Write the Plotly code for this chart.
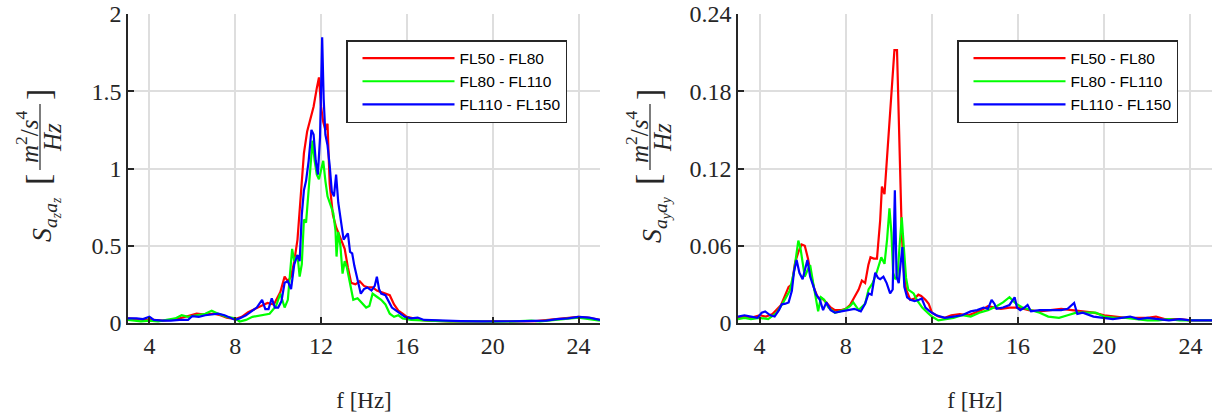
import plotly.graph_objects as go

# ---------------- data ----------------
SERIES_NAMES = ["FL50 - FL80", "FL80 - FL110", "FL110 - FL150"]
X_TICKS = [4, 8, 12, 16, 20, 24]
Y_TICKS_LEFT = [0, 0.5, 1, 1.5, 2]
Y_TICK_TEXT_LEFT = ["0", "0.5", "1", "1.5", "2"]
Y_TICKS_RIGHT = [0, 0.06, 0.12, 0.18, 0.24]
Y_TICK_TEXT_RIGHT = ["0", "0.06", "0.12", "0.18", "0.24"]

# Left: S_azaz
AZ_RED_F = [3.0, 3.4, 3.8, 4.2, 4.6, 5.0, 5.4, 5.8, 6.2, 6.6, 7.0, 7.3, 7.6, 8.0, 8.3, 8.6, 8.9, 9.2,
            9.5, 9.8, 10.1, 10.3, 10.45, 10.6, 10.75, 10.9, 11.05, 11.2, 11.35, 11.5, 11.65, 11.8,
            11.9, 12.0, 12.1, 12.2, 12.3, 12.4, 12.55, 12.7, 12.9, 13.1, 13.25, 13.4, 13.6, 13.8,
            14.0, 14.2, 14.4, 14.6, 14.8, 15.0, 15.2, 15.4, 15.6, 15.8, 16.0, 16.3, 16.6, 17.0,
            17.5, 18.0, 19.0, 20.0, 21.0, 22.0, 22.6, 23.0, 23.5, 24.0, 24.4, 24.8, 25.0]
AZ_RED_V = [0.03, 0.025, 0.02, 0.02, 0.015, 0.02, 0.03, 0.045, 0.06, 0.055, 0.06, 0.05, 0.035,
            0.025, 0.04, 0.07, 0.09, 0.11, 0.13, 0.12, 0.20, 0.30, 0.27, 0.30, 0.40, 0.54, 0.80,
            1.10, 1.24, 1.33, 1.40, 1.52, 1.59, 1.40, 1.30, 1.25, 1.29, 0.90, 0.70, 0.62, 0.55,
            0.48, 0.36, 0.26, 0.25, 0.27, 0.24, 0.23, 0.23, 0.21, 0.20, 0.19, 0.18, 0.12, 0.08,
            0.06, 0.04, 0.03, 0.02, 0.015, 0.012, 0.01, 0.01, 0.012, 0.01, 0.012, 0.02, 0.025,
            0.035, 0.04, 0.035, 0.025, 0.02]

AZ_GREEN_F = [3.0, 3.3, 3.6, 4.0, 4.4, 4.8, 5.2, 5.5, 5.8, 6.2, 6.6, 6.9, 7.2, 7.6, 8.0, 8.2, 8.5,
              8.8, 9.2, 9.6, 9.9, 10.1, 10.3, 10.45, 10.65, 10.75, 10.9, 11.0, 11.1, 11.2, 11.3,
              11.4, 11.5, 11.6, 11.7, 11.8, 11.9, 12.0, 12.1, 12.2, 12.3, 12.45, 12.57, 12.67,
              12.72, 12.8, 12.9, 13.0, 13.1, 13.2, 13.35, 13.5, 13.7, 13.9, 14.1, 14.25, 14.4,
              14.6, 14.8, 15.0, 15.2, 15.4, 15.6, 15.8, 16.2, 17.0, 18.0, 19.0, 20.0, 21.0, 21.8,
              22.2, 23.0, 23.5, 24.0, 24.5, 25.0]
AZ_GREEN_V = [0.02, 0.015, 0.01, 0.015, 0.01, 0.02, 0.03, 0.05, 0.04, 0.05, 0.06, 0.08, 0.06,
              0.04, 0.03, 0.01, 0.02, 0.04, 0.05, 0.06, 0.11, 0.19, 0.10, 0.15, 0.48, 0.40, 0.44,
              0.30, 0.38, 0.67, 0.65, 0.82, 1.00, 1.18, 1.05, 0.96, 0.93, 1.00, 1.05, 0.92, 0.82,
              0.76, 0.71, 0.60, 0.43, 0.59, 0.50, 0.32, 0.40, 0.36, 0.25, 0.15, 0.16, 0.13, 0.10,
              0.11, 0.19, 0.17, 0.15, 0.12, 0.06, 0.04, 0.05, 0.03, 0.02, 0.015, 0.01, 0.012,
              0.008, 0.01, 0.015, 0.01, 0.02, 0.03, 0.035, 0.025, 0.015]

AZ_BLUE_F = [3.0, 3.4, 3.7, 4.0, 4.2, 4.6, 5.0, 5.4, 5.8, 6.0, 6.3, 6.6, 6.9, 7.2, 7.5, 7.8, 8.0,
             8.2, 8.5, 8.8, 9.0, 9.25, 9.4, 9.55, 9.7, 9.85, 10.0, 10.15, 10.3, 10.45, 10.6, 10.75,
             10.9, 11.0, 11.1, 11.2, 11.3, 11.42, 11.55, 11.65, 11.75, 11.85, 11.95, 12.05, 12.12,
             12.2, 12.3, 12.4, 12.5, 12.6, 12.7, 12.8, 12.95, 13.05, 13.15, 13.25, 13.35, 13.45,
             13.55, 13.7, 13.85, 14.0, 14.15, 14.35, 14.5, 14.6, 14.7, 14.8, 15.0, 15.15, 15.3,
             15.5, 15.7, 15.9, 16.2, 16.5, 16.8, 17.5, 18.5, 19.5, 20.5, 21.5, 22.5, 23.0, 23.5,
             24.0, 24.5, 25.0]
AZ_BLUE_V = [0.03, 0.03, 0.025, 0.04, 0.02, 0.015, 0.015, 0.02, 0.02, 0.045, 0.04, 0.05, 0.055,
             0.06, 0.05, 0.035, 0.02, 0.03, 0.05, 0.08, 0.10, 0.15, 0.09, 0.09, 0.16, 0.10, 0.10,
             0.14, 0.26, 0.27, 0.22, 0.38, 0.44, 0.40, 0.70, 0.86, 0.92, 1.05, 1.25, 1.22, 1.05,
             0.96, 1.20, 1.85, 1.45, 1.22, 1.15, 1.02, 0.85, 0.82, 0.96, 0.78, 0.62, 0.54, 0.56,
             0.58, 0.46, 0.45, 0.37, 0.28, 0.19, 0.22, 0.23, 0.21, 0.24, 0.30, 0.22, 0.19, 0.18,
             0.14, 0.10, 0.08, 0.06, 0.04, 0.03, 0.035, 0.02, 0.015, 0.012, 0.01, 0.01, 0.012,
             0.015, 0.025, 0.03, 0.04, 0.035, 0.02]

# Right: S_ayay
AY_RED_F = [3.0, 3.3, 3.6, 4.0, 4.3, 4.6, 5.0, 5.2, 5.35, 5.5, 5.65, 5.8, 5.95, 6.1, 6.25, 6.4,
            6.55, 6.7, 6.9, 7.1, 7.3, 7.5, 7.8, 8.0, 8.2, 8.4, 8.6, 8.75, 8.9, 9.05, 9.15, 9.3,
            9.45, 9.6, 9.68, 9.8, 9.9, 10.0, 10.1, 10.2, 10.26, 10.38, 10.45, 10.52, 10.6, 10.7,
            10.8, 11.0, 11.2, 11.37, 11.5, 11.7, 11.85, 12.0, 12.3, 12.6, 12.9, 13.3, 13.7, 14.0,
            14.3, 14.6, 14.9, 15.2, 15.6, 16.0, 16.5, 17.0, 17.5, 18.0, 18.5, 19.0, 19.5, 20.0,
            20.5, 21.0, 21.5, 22.0, 22.4, 22.8, 23.5, 24.0, 24.5, 25.0]
AY_RED_V = [0.004, 0.005, 0.004, 0.006, 0.005, 0.007, 0.014, 0.022, 0.028, 0.030, 0.047, 0.055,
            0.061, 0.060, 0.050, 0.036, 0.026, 0.020, 0.019, 0.016, 0.012, 0.010, 0.010, 0.011,
            0.014, 0.020, 0.026, 0.033, 0.031, 0.045, 0.051, 0.050, 0.050, 0.080, 0.106, 0.100,
            0.125, 0.145, 0.168, 0.195, 0.212, 0.212, 0.160, 0.110, 0.070, 0.040, 0.026, 0.018,
            0.019, 0.022, 0.021, 0.018, 0.015, 0.008, 0.005, 0.004, 0.006, 0.007, 0.006, 0.008,
            0.010, 0.013, 0.012, 0.011, 0.012, 0.012, 0.010, 0.009, 0.010, 0.011, 0.010, 0.009,
            0.008, 0.006, 0.005, 0.004, 0.004, 0.004, 0.005, 0.003, 0.003, 0.002, 0.002, 0.002]

AY_GREEN_F = [3.0, 3.3, 3.6, 4.0, 4.4, 4.8, 5.1, 5.4, 5.6, 5.8, 5.9, 6.0, 6.1, 6.2, 6.35, 6.5,
              6.6, 6.72, 6.85, 7.0, 7.2, 7.5, 7.9, 8.2, 8.35, 8.6, 8.9, 9.06, 9.25, 9.45, 9.65,
              9.8, 9.92, 10.03, 10.12, 10.2, 10.3, 10.4, 10.5, 10.6, 10.7, 10.8, 10.9, 11.0, 11.15,
              11.3, 11.55, 11.8, 12.0, 12.3, 12.6, 13.0, 13.4, 13.8, 14.2, 14.6, 15.0, 15.3, 15.6,
              15.9, 16.2, 16.6, 17.0, 17.4, 17.9, 18.3, 18.7, 19.2, 19.6, 20.0, 20.5, 21.0, 21.5,
              22.0, 22.5, 23.0, 23.5, 24.0, 24.5, 25.0]
AY_GREEN_V = [0.003, 0.004, 0.003, 0.004, 0.003, 0.008, 0.016, 0.025, 0.040, 0.064, 0.058, 0.047,
              0.036, 0.040, 0.045, 0.030, 0.020, 0.009, 0.020, 0.018, 0.012, 0.008, 0.010, 0.013,
              0.016, 0.010, 0.015, 0.026, 0.031, 0.040, 0.051, 0.046, 0.065, 0.089, 0.070, 0.039,
              0.034, 0.036, 0.060, 0.082, 0.058, 0.035, 0.026, 0.025, 0.023, 0.018, 0.012, 0.008,
              0.005, 0.002, 0.003, 0.004, 0.006, 0.005, 0.008, 0.010, 0.013, 0.016, 0.020, 0.015,
              0.012, 0.010, 0.008, 0.005, 0.004, 0.006, 0.008, 0.008, 0.008, 0.005, 0.004, 0.004,
              0.003, 0.002, 0.002, 0.003, 0.002, 0.002, 0.002, 0.002]

AY_BLUE_F = [3.0, 3.3, 3.6, 3.9, 4.1, 4.26, 4.5, 4.7, 4.9, 5.03, 5.2, 5.35, 5.5, 5.6, 5.72, 5.85,
             6.0, 6.1, 6.22, 6.35, 6.5, 6.63, 6.8, 6.95, 7.1, 7.3, 7.5, 7.8, 8.1, 8.4, 8.7, 8.9,
             9.06, 9.2, 9.37, 9.5, 9.6, 9.75, 9.9, 10.06, 10.18, 10.28, 10.36, 10.46, 10.54, 10.63,
             10.72, 10.85, 11.0, 11.2, 11.4, 11.53, 11.7, 11.9, 12.2, 12.6, 13.0, 13.4, 13.8, 14.1,
             14.4, 14.6, 14.77, 14.9, 15.0, 15.3, 15.6, 15.84, 15.95, 16.1, 16.3, 16.44, 16.6,
             17.0, 17.5, 18.0, 18.3, 18.6, 18.75, 19.0, 19.5, 20.0, 20.4, 20.8, 21.2, 21.6, 22.0,
             22.5, 23.0, 23.5, 24.0, 24.5, 25.0]
AY_BLUE_V = [0.005, 0.006, 0.005, 0.004, 0.008, 0.009, 0.006, 0.005, 0.010, 0.0145, 0.015, 0.016,
             0.025, 0.040, 0.049, 0.039, 0.034, 0.042, 0.049, 0.036, 0.028, 0.022, 0.018, 0.010,
             0.016, 0.010, 0.008, 0.009, 0.010, 0.011, 0.009, 0.015, 0.023, 0.022, 0.039, 0.035,
             0.034, 0.036, 0.031, 0.023, 0.026, 0.103, 0.036, 0.031, 0.045, 0.059, 0.028, 0.020,
             0.018, 0.017, 0.018, 0.019, 0.012, 0.009, 0.006, 0.004, 0.005, 0.006, 0.009, 0.010,
             0.012, 0.011, 0.018, 0.015, 0.011, 0.012, 0.014, 0.020, 0.012, 0.010, 0.012, 0.014,
             0.009, 0.010, 0.010, 0.010, 0.011, 0.0155, 0.007, 0.008, 0.005, 0.004, 0.003, 0.004,
             0.005, 0.003, 0.004, 0.003, 0.002, 0.003, 0.002, 0.002, 0.002]

COLORS = ["#ff0000", "#00ff00", "#0000ff"]

# ---------------- figure ----------------
W, H = 1217, 414
fig = go.Figure()

left = [(AZ_RED_F, AZ_RED_V), (AZ_GREEN_F, AZ_GREEN_V), (AZ_BLUE_F, AZ_BLUE_V)]
right = [(AY_RED_F, AY_RED_V), (AY_GREEN_F, AY_GREEN_V), (AY_BLUE_F, AY_BLUE_V)]

for i, (f, v) in enumerate(left):
    fig.add_trace(go.Scatter(x=f, y=v, mode="lines", name=SERIES_NAMES[i],
                             line=dict(color=COLORS[i], width=2.2),
                             xaxis="x", yaxis="y", legend="legend"))
for i, (f, v) in enumerate(right):
    fig.add_trace(go.Scatter(x=f, y=v, mode="lines", name=SERIES_NAMES[i],
                             line=dict(color=COLORS[i], width=2.2),
                             xaxis="x2", yaxis="y2", legend="legend2"))

def px(x):
    return x / W

def py(y):
    return 1 - y / H

SERIF = "Liberation Serif"
ydom = [py(323), py(14)]
tick_font = dict(family=SERIF, size=24, color="#262626")
common_x = dict(range=[3, 25], tickvals=X_TICKS, ticktext=[str(t) for t in X_TICKS],
                showgrid=True, gridcolor="#dedede", gridwidth=1.5, zeroline=False,
                showline=True, linecolor="#262626", linewidth=1.5, mirror=False,
                ticks="inside", ticklen=6, tickwidth=1.5, tickcolor="#262626",
                tickfont=tick_font, automargin=False,
                title=dict(text="f [Hz]", font=dict(family=SERIF, size=23, color="#262626"),
                           standoff=34))
common_y = dict(showgrid=True, gridcolor="#dedede", gridwidth=1.5, zeroline=False,
                showline=True, linecolor="#262626", linewidth=1.5, mirror=False,
                ticks="inside", ticklen=6, tickwidth=1.5, tickcolor="#262626",
                tickfont=tick_font, domain=ydom, automargin=False)

legend_style = dict(bgcolor="white", bordercolor="#262626", borderwidth=1.5,
                    font=dict(family="Liberation Sans", size=15.5, color="#000000"),
                    xanchor="left", yanchor="top", itemwidth=92, tracegroupgap=0,
                    indentation=10)

fig.update_layout(
    width=W, height=H,
    margin=dict(l=0, r=0, t=0, b=0, autoexpand=False),
    paper_bgcolor="white", plot_bgcolor="white",
    xaxis=dict(domain=[px(128), px(600)], anchor="y", **common_x),
    yaxis=dict(range=[0, 2], tickvals=Y_TICKS_LEFT, ticktext=Y_TICK_TEXT_LEFT,
               anchor="x", **common_y),
    xaxis2=dict(domain=[px(738), px(1212)], anchor="y2", **common_x),
    yaxis2=dict(range=[0, 0.24], tickvals=Y_TICKS_RIGHT, ticktext=Y_TICK_TEXT_RIGHT,
                anchor="x2", **common_y),
    legend=dict(x=px(346), y=py(40), **legend_style),
    legend2=dict(x=px(957), y=py(40), **legend_style),
    showlegend=True,
)

# y-axis titles built from text pieces (LaTeX-like)
anns = []
shapes = []
for off, sub in [(0, "z"), (610, "y")]:
    anns.append(dict(x=px(45 + off), y=py(220), xref="paper", yref="paper", showarrow=False,
                     textangle=-90, xanchor="center", yanchor="middle",
                     text="<i>S</i><sub><i>a</i><sub><i>%s</i></sub><i>a</i><sub><i>%s</i></sub></sub>" % (sub, sub),
                     font=dict(family=SERIF, size=28, color="#262626")))
    anns.append(dict(x=px(38 + off), y=py(180), xref="paper", yref="paper", showarrow=False,
                     textangle=-90, xanchor="center", yanchor="middle", text="[",
                     font=dict(family=SERIF, size=34, color="#262626")))
    anns.append(dict(x=px(38 + off), y=py(95), xref="paper", yref="paper", showarrow=False,
                     textangle=-90, xanchor="center", yanchor="middle", text="]",
                     font=dict(family=SERIF, size=34, color="#262626")))
    anns.append(dict(x=px(27 + off), y=py(137), xref="paper", yref="paper", showarrow=False,
                     textangle=-90, xanchor="center", yanchor="middle",
                     text="<i>m</i><sup>2</sup>/<i>s</i><sup>4</sup>",
                     font=dict(family=SERIF, size=25, color="#262626")))
    anns.append(dict(x=px(53 + off), y=py(138), xref="paper", yref="paper", showarrow=False,
                     textangle=-90, xanchor="center", yanchor="middle", text="<i>Hz</i>",
                     font=dict(family=SERIF, size=25, color="#262626")))
    shapes.append(dict(type="line", xref="paper", yref="paper",
                       x0=px(40 + off), x1=px(40 + off), y0=py(104), y1=py(170),
                       line=dict(color="#262626", width=1.2)))

fig.update_layout(annotations=anns, shapes=shapes)
fig.write_html("out.html", post_script="document.body.style.margin='0px';",
               config={"displayModeBar": False})
